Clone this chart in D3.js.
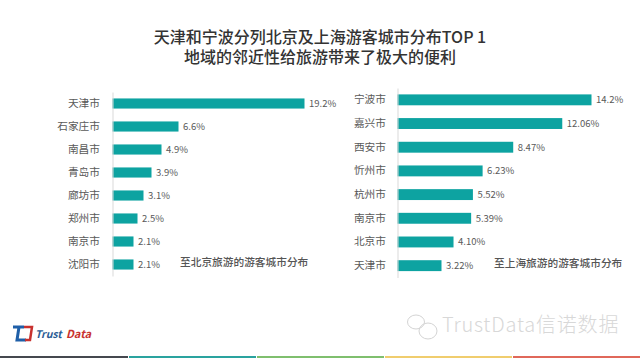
<!DOCTYPE html>
<html>
<head>
<meta charset="utf-8">
<script src="https://cdn.jsdelivr.net/npm/d3@7"></script>
<style>
  html, body { margin: 0; padding: 0; background: #fff; }
  svg { display: block; }
  text { font-family: "Noto Sans CJK SC", "Open Sans", sans-serif; }
</style>
</head>
<body>
<div id="chart"></div>
<script>
// data
const titleLines = ["天津和宁波分列北京及上海游客城市分布TOP 1", "地域的邻近性给旅游带来了极大的便利"];

const leftCities = ["天津市", "石家庄市", "南昌市", "青岛市", "廊坊市", "郑州市", "南京市", "沈阳市"];
const leftValues = [19.2, 6.6, 4.9, 3.9, 3.1, 2.5, 2.1, 2.1];
const leftLabels = ["19.2%", "6.6%", "4.9%", "3.9%", "3.1%", "2.5%", "2.1%", "2.1%"];
const leftCaption = "至北京旅游的游客城市分布";

const rightCities = ["宁波市", "嘉兴市", "西安市", "忻州市", "杭州市", "南京市", "北京市", "天津市"];
const rightValues = [14.2, 12.06, 8.47, 6.23, 5.52, 5.39, 4.10, 3.22];
const rightLabels = ["14.2%", "12.06%", "8.47%", "6.23%", "5.52%", "5.39%", "4.10%", "3.22%"];
const rightCaption = "至上海旅游的游客城市分布";

const footerColors = ["#45484f", "#2aa39f", "#7fbf6e", "#f0cd6e", "#e0685a"];

const width = 640, height = 358;
const barColor = "#0da3a1";
const textColor = "#595959";

const svg = d3.select("#chart").append("svg")
  .attr("width", width)
  .attr("height", height);

// title
svg.append("g").selectAll("text")
  .data(titleLines)
  .enter()
  .append("text")
  .attr("x", 320)
  .attr("y", (d, i) => 43 + i * 20)
  .attr("text-anchor", "middle")
  .attr("font-size", 16)
  .attr("font-weight", 500)
  .attr("fill", "#333")
  .text(d => d);

// one bar panel
function drawPanel(cfg) {
  let x = d3.scaleLinear().domain([0, cfg.maxValue]).range([cfg.x0, cfg.x1]);
  let y = d3.scaleBand().domain(cfg.cities).range([cfg.top, cfg.bottom]).paddingInner(cfg.pad).paddingOuter(cfg.pad / 2);

  let g = svg.append("g");

  g.selectAll("rect")
    .data(cfg.values)
    .enter()
    .append("rect")
    .attr("x", x(0))
    .attr("y", (d, i) => y(cfg.cities[i]))
    .attr("width", d => x(d) - x(0))
    .attr("height", y.bandwidth())
    .attr("fill", barColor);

  // axis with city names, no ticks
  let axis = g.append("g")
    .attr("transform", `translate(${x(0)},0)`)
    .call(d3.axisLeft(y).tickSize(0).tickPadding(cfg.labelPad));
  axis.select(".domain").attr("stroke", "#d9d9d9");
  axis.selectAll("text")
    .attr("font-size", 10.7)
    .attr("font-family", '"Noto Sans CJK SC", sans-serif')
    .attr("fill", textColor);

  g.selectAll(".val")
    .data(cfg.values)
    .enter()
    .append("text")
    .attr("class", "val")
    .attr("x", d => x(d) + 4.5)
    .attr("y", (d, i) => y(cfg.cities[i]) + y.bandwidth() / 2)
    .attr("dy", "0.35em")
    .attr("font-size", 9.5)
    .attr("font-family", '"Open Sans", sans-serif')
    .attr("fill", textColor)
    .text((d, i) => cfg.labels[i]);

  g.append("text")
    .attr("x", cfg.capX)
    .attr("y", cfg.capY)
    .attr("font-size", 10.7)
    .attr("font-weight", 500)
    .attr("fill", "#555")
    .text(cfg.caption);
}

drawPanel({
  cities: leftCities, values: leftValues, labels: leftLabels, caption: leftCaption,
  maxValue: 19.2, x0: 112.5, x1: 304.5, top: 92, bottom: 276, pad: 0.56, labelPad: 12.5,
  capX: 180, capY: 266
});

drawPanel({
  cities: rightCities, values: rightValues, labels: rightLabels, caption: rightCaption,
  maxValue: 14.2, x0: 397.5, x1: 591.5, top: 88, bottom: 277.5, pad: 0.54, labelPad: 11.5,
  capX: 494, capY: 267
});

// logo
let logo = svg.append("g");
logo.append("path")
  .attr("d", "M13 327 H24 M19 327 L17 340 H26")
  .attr("fill", "none").attr("stroke", "#1f5fa8").attr("stroke-width", 3);
logo.append("path")
  .attr("d", "M24 327 H32 L30 340 H25")
  .attr("fill", "none").attr("stroke", "#c8322f").attr("stroke-width", 2.5);
logo.append("text").attr("x", 35).attr("y", 338)
  .attr("font-size", 10.5).attr("font-style", "italic").attr("font-weight", 700)
  .attr("font-family", '"Open Sans", sans-serif').attr("fill", "#2b5c94").text("Trust");
logo.append("text").attr("x", 66).attr("y", 338)
  .attr("font-size", 11).attr("font-style", "italic").attr("font-weight", 700)
  .attr("font-family", '"Open Sans", sans-serif').attr("fill", "#c8322f").text("Data");

// watermark
let mark = svg.append("g").attr("fill", "none").attr("stroke", "#d4d4d4");
mark.append("ellipse").attr("cx", 416).attr("cy", 322).attr("rx", 8.5).attr("ry", 7);
mark.append("ellipse").attr("cx", 428).attr("cy", 331).attr("rx", 9).attr("ry", 8);
svg.append("text").attr("x", 442).attr("y", 332)
  .attr("font-size", 20).attr("font-weight", 300)
  .attr("letter-spacing", 0.8)
  .attr("font-family", '"Noto Sans CJK SC", sans-serif')
  .attr("fill", "#d8d8d8").text("TrustData信诺数据");

// footer strip
let footer = d3.scaleBand().domain(d3.range(footerColors.length)).range([0, width]);
svg.append("g").selectAll("rect")
  .data(footerColors)
  .enter()
  .append("rect")
  .attr("x", (d, i) => footer(i) + (i ? 1 : 0))
  .attr("y", 356)
  .attr("width", (d, i) => footer.bandwidth() - (i ? 1 : 0))
  .attr("height", 2)
  .attr("fill", d => d);
</script>
</body>
</html>
